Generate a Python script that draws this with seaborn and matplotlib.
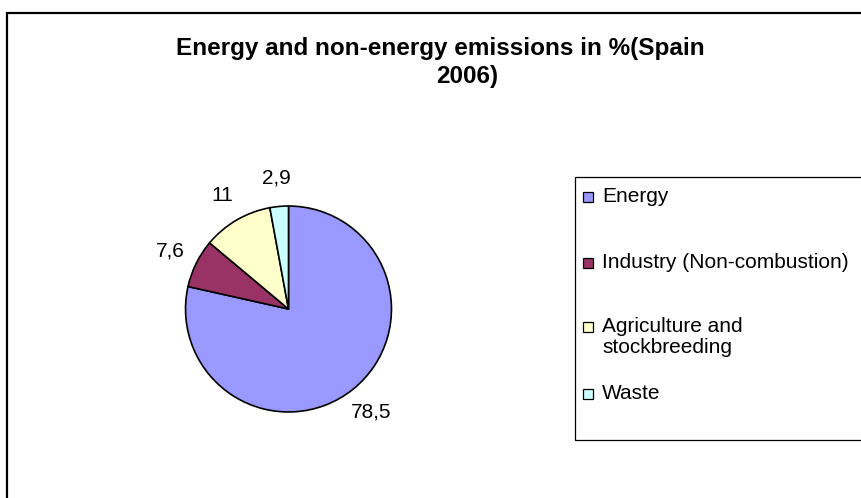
import matplotlib
matplotlib.use("Agg")
import matplotlib.pyplot as plt
from matplotlib.patches import Rectangle
import seaborn as sns

# Emission shares for Spain, 2006 (%)
categories = ["Energy", "Industry (Non-combustion)", "Agriculture and\nstockbreeding", "Waste"]
shares = [78.5, 7.6, 11, 2.9]
colors = ["#9999FF", "#993366", "#FFFFCC", "#CCFFFF"]
title_lines = ["Energy and non-energy emissions in %(Spain", "2006)"]

sns.set_theme(style="white")
plt.rcParams["font.family"] = ["Liberation Sans", "DejaVu Sans"]

W, H = 861, 498
fig = plt.figure(figsize=(W / 100, H / 100), dpi=100)
fig.patch.set_facecolor("white")


def px(x, y):
    """Pixel position (from top-left) to figure fraction."""
    return x / W, 1 - y / H


# outer chart border, running past the right and bottom edges
fig.patches.append(Rectangle(px(7, 560), (W + 60) / W, (560 - 12.5) / H,
                             transform=fig.transFigure, fill=False,
                             edgecolor="black", linewidth=1.6, zorder=0))

# two-line title, each line centred on its own
for line, (x, y) in zip(title_lines, [(440.5, 49), (467, 77)]):
    fig.text(*px(x, y), line, ha="center", va="center", fontsize=17.5,
             fontweight="bold", color="black")

# pie
cx, cy, r = 288.5, 309, 104
l, b = px(cx - r, cy + r)
ax = fig.add_axes([l, b, 2 * r / W, 2 * r / H])
palette = sns.color_palette(colors)
labels = [f"{v:g}".replace(".", ",") for v in shares]
wedges, texts = ax.pie(shares, labels=labels, colors=palette, startangle=90,
                       counterclock=False, labeldistance=1.28, radius=1,
                       wedgeprops=dict(edgecolor="black", linewidth=1.2),
                       textprops=dict(fontsize=15, color="black"))
for t in texts:
    t.set_ha("center")
    t.set_va("center")
ax.set_xlim(-1.01, 1.01)
ax.set_ylim(-1.01, 1.01)
ax.set_aspect("equal")
ax.axis("off")

# legend box
fig.patches.append(Rectangle(px(575, 440), (W + 60 - 575) / W, (440 - 177) / H,
                             transform=fig.transFigure, fill=False,
                             edgecolor="black", linewidth=0.9, zorder=1))
legend_rows = [197, 263, 327, 394]
for name, col, y in zip(categories, colors, legend_rows):
    fig.patches.append(Rectangle(px(583, y + 5), 10 / W, 10 / H,
                                 transform=fig.transFigure, facecolor=col,
                                 edgecolor="black", linewidth=0.9, zorder=2))
    fig.text(*px(602, y - 10), name, ha="left", va="top",
             fontsize=15, color="black", linespacing=1.1)

fig.savefig("out.png", dpi=100, facecolor="white")
